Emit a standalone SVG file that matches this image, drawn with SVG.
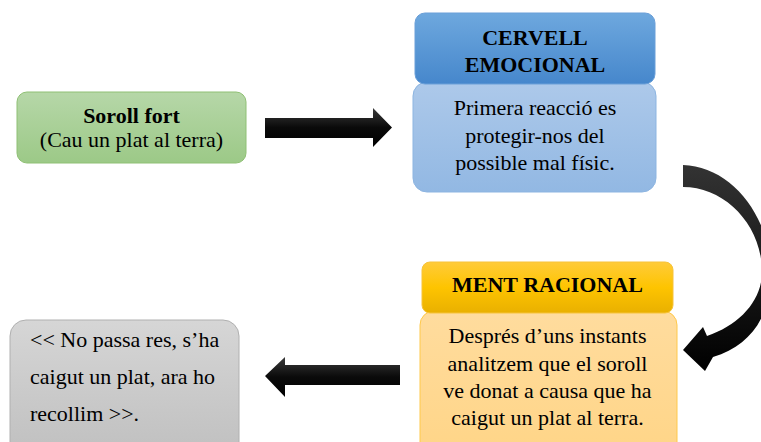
<svg xmlns="http://www.w3.org/2000/svg" width="761" height="442" viewBox="0 0 761 442">
<defs>
<linearGradient id="gGreen" x1="0" y1="0" x2="0" y2="1"><stop offset="0" stop-color="#b6d7a8"/><stop offset="1" stop-color="#9cc987"/></linearGradient>
<linearGradient id="gBlueH" x1="0" y1="0" x2="0" y2="1"><stop offset="0" stop-color="#6ea8de"/><stop offset="1" stop-color="#4687cc"/></linearGradient>
<linearGradient id="gBlueB" x1="0" y1="0" x2="0" y2="1"><stop offset="0" stop-color="#adc9ea"/><stop offset="1" stop-color="#92b8e3"/></linearGradient>
<linearGradient id="gYelH" x1="0" y1="0" x2="0" y2="1"><stop offset="0" stop-color="#ffcb3a"/><stop offset="0.5" stop-color="#fec400"/><stop offset="1" stop-color="#e9b000"/></linearGradient>
<linearGradient id="gYelB" x1="0" y1="0" x2="0" y2="1"><stop offset="0" stop-color="#ffdc9e"/><stop offset="1" stop-color="#ffd587"/></linearGradient>
<linearGradient id="gGray" x1="0" y1="0" x2="0" y2="1"><stop offset="0" stop-color="#d6d6d6"/><stop offset="1" stop-color="#bfbfbf"/></linearGradient>
<linearGradient id="gArrow" x1="0" y1="0" x2="0" y2="1"><stop offset="0" stop-color="#3a3a3a"/><stop offset="0.5" stop-color="#0a0a0a"/><stop offset="1" stop-color="#000"/></linearGradient>
<linearGradient id="gCurve" x1="0" y1="0" x2="0" y2="1"><stop offset="0" stop-color="#333"/><stop offset="1" stop-color="#000"/></linearGradient>
</defs>
<style>
text{font-family:"Liberation Serif","Times New Roman",serif;font-size:22px;fill:#000}
.b{font-weight:bold}
.c{text-anchor:middle}
</style>
<g id="connectors">
<path d="M265,118 L373,118 L373,108 L392,127.5 L373,147 L373,138 L265,138 Z" fill="url(#gArrow)"/>
<path d="M683,165 C730,166 770,215 770,270 C772,315 752,345 713,357 L705,371 L683,350 L703,327 L707,336 C740,325 762,300 762,272 C762,225 725,187 683,187 Z" fill="url(#gCurve)"/>
<path d="M400,365 L285,365 L285,357 L265,376 L285,397 L285,385 L400,385 Z" fill="url(#gArrow)"/>
</g>
<g id="soroll">
<rect x="17" y="92" width="229" height="71" rx="10" fill="url(#gGreen)" stroke="#8fc074" stroke-width="1"/>
<text class="b c" x="131.5" y="123">Soroll fort</text>
<text class="c" x="131.5" y="147">(Cau un plat al terra)</text>
</g>
<g id="cervell">
<rect x="413" y="82" width="243" height="110" rx="14" fill="url(#gBlueB)" stroke="#8db5e1" stroke-width="1"/>
<rect x="415" y="13" width="240" height="71" rx="10" fill="url(#gBlueH)" stroke="#6a9fd8" stroke-width="1"/>
<text class="b c" x="535" y="45">CERVELL</text>
<text class="b c" x="535" y="72">EMOCIONAL</text>
<text class="c" x="535" y="115">Primera reacció es</text>
<text class="c" x="535" y="143">protegir-nos del</text>
<text class="c" x="535" y="170">possible mal físic.</text>
</g>
<g id="ment">
<rect x="420" y="311" width="257" height="145" rx="14" fill="url(#gYelB)" stroke="#ffc94a" stroke-width="1"/>
<rect x="422" y="262" width="251" height="51" rx="8" fill="url(#gYelH)" stroke="#f7c33a" stroke-width="1"/>
<text class="b c" x="547.5" y="292">MENT RACIONAL</text>
<text class="c" x="547.5" y="343">Després d’uns instants</text>
<text class="c" x="547.5" y="371">analitzem que el soroll</text>
<text class="c" x="547.5" y="398">ve donat a causa que ha</text>
<text class="c" x="547.5" y="425">caigut un plat al terra.</text>
</g>
<g id="resposta">
<rect x="10" y="320" width="229" height="140" rx="16" fill="url(#gGray)" stroke="#b0b0b0" stroke-width="1"/>
<text x="30" y="347">&lt;&lt; No passa res, s’ha</text>
<text x="30" y="384">caigut un plat, ara ho</text>
<text x="30" y="421">recollim &gt;&gt;.</text>
</g>
</svg>
